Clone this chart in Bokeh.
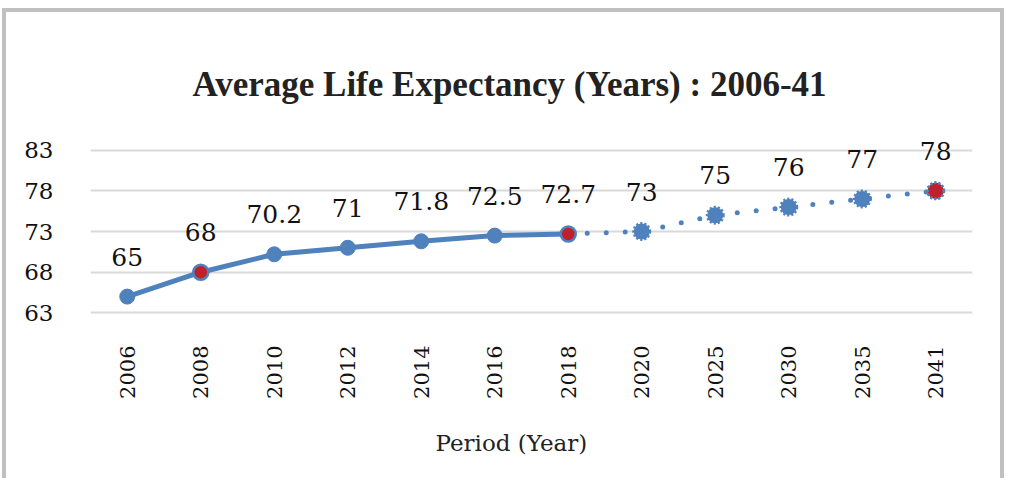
import math
from bokeh.plotting import figure
from bokeh.models import FixedTicker, Title, Range1d
from bokeh.embed import file_html
from bokeh.resources import INLINE
from bokeh.core.properties import value

# ---- data ----
years = ["2006", "2008", "2010", "2012", "2014", "2016", "2018",
         "2020", "2025", "2030", "2035", "2041"]
life = [65, 68, 70.2, 71, 71.8, 72.5, 72.7, 73, 75, 76, 77, 78]
labels = ["65", "68", "70.2", "71", "71.8", "72.5", "72.7",
          "73", "75", "76", "77", "78"]
observed_years = years[:7]
observed_life = life[:7]
projected_years = years[6:]
projected_life = life[6:]
highlight_years = ["2008", "2018", "2041"]
highlight_life = [68, 72.7, 78]
y_ticks = [63, 68, 73, 78, 83]

BLUE = "#4f81bd"
RED = "#c0202a"
SERIF = "DejaVu Serif"

p = figure(x_range=years, y_range=Range1d(62.8, 88), width=1002, height=470,
           output_backend="svg", toolbar_location=None,
           min_border_left=84, min_border_right=36,
           min_border_top=97, min_border_bottom=168)

p.title.text = "Average Life Expectancy (Years) : 2006-41"
p.title.text_font = "Liberation Serif"
p.title.text_font_style = "bold"
p.title.text_font_size = "35px"
p.title.align = "left"
p.title.offset = 102
p.title.standoff = 12
p.title.text_color = "#222222"

xt = Title(text="Period (Year)", align="left", offset=345, standoff=52,
           text_font=SERIF, text_font_style="normal",
           text_font_size="23px", text_color="#222222")
p.add_layout(xt, "below")

# lines
p.line(observed_years, observed_life, line_color=BLUE, line_width=5,
       line_cap="round", line_join="round")
p.line(projected_years, projected_life, line_color=BLUE, line_width=5,
       line_dash="0 19", line_cap="round")

# markers
p.scatter(observed_years, observed_life, size=15, fill_color=BLUE,
          line_color=BLUE, line_width=1)
p.scatter(projected_years[1:], projected_life[1:], size=16, fill_color=BLUE,
          line_color=BLUE, line_width=3, line_dash="2 2")
p.scatter(highlight_years[:2], highlight_life[:2], size=15, fill_color=RED,
          line_color=BLUE, line_width=2.5)
p.scatter(highlight_years[2:], highlight_life[2:], size=16, fill_color=RED,
          line_color=BLUE, line_width=2.5, line_dash="2 2")

# data labels
p.text(x=years, y=life, text=labels, text_align="center",
       text_baseline="middle", y_offset=-40,
       text_font=value(SERIF), text_font_size="25px", text_color="#111111")

# axes
p.yaxis.ticker = FixedTicker(ticks=y_ticks)
p.ygrid.ticker = FixedTicker(ticks=y_ticks)
for ax in (p.xaxis[0], p.yaxis[0]):
    ax.axis_line_color = None
    ax.major_tick_line_color = None
    ax.minor_tick_line_color = None
    ax.major_tick_out = 0
    ax.major_tick_in = 0
    ax.major_label_text_font = SERIF
    ax.major_label_text_color = "#111111"
p.yaxis.major_label_text_font_size = "23px"
p.yaxis.major_label_standoff = 37
p.xaxis.major_label_text_font_size = "21px"
# numeric +pi/2: text reads bottom-to-top (as in the reference)
p.xaxis.major_label_orientation = math.pi / 2
p.xaxis.major_label_standoff = 31

p.xgrid.grid_line_color = None
p.ygrid.grid_line_color = "#d9d9d9"
p.ygrid.grid_line_width = 2
p.outline_line_color = None
p.styles = {"border-top": "4px solid #c0c0c0",
            "border-left": "4px solid #c0c0c0",
            "border-right": "4px solid #c0c0c0",
            "margin-left": "2px", "margin-top": "8px"}

open("out.html", "w").write(file_html(p, INLINE))
